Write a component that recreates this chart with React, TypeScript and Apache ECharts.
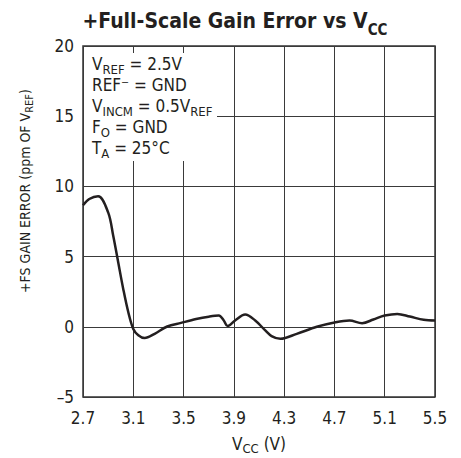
import React, { useEffect, useRef } from "react";
import * as echarts from "echarts";

const X0 = 2.7;
const vcc = [2.70, 2.75, 2.82, 2.90, 2.94, 2.98, 3.02, 3.06, 3.10, 3.14, 3.19, 3.27, 3.37, 3.48, 3.60, 3.70, 3.78, 3.82, 3.85, 3.91, 3.99, 4.07, 4.15, 4.20, 4.27, 4.40, 4.56, 4.71, 4.82, 4.92, 5.01, 5.10, 5.20, 5.30, 5.41, 5.50];
const gainError = [8.65, 9.1, 9.3, 8.15, 6.5, 4.6, 2.7, 1.05, -0.15, -0.6, -0.8, -0.5, 0.02, 0.28, 0.55, 0.72, 0.8, 0.45, 0.05, 0.45, 0.87, 0.45, -0.26, -0.66, -0.85, -0.5, 0.0, 0.33, 0.45, 0.26, 0.52, 0.8, 0.92, 0.73, 0.5, 0.45];
const yTicks = [-5, 0, 5, 10, 15, 20];
const notes = [
  "V{sub|REF} = 2.5V",
  "REF⁻ = GND",
  "V{sub|INCM} = 0.5V{sub|REF}",
  "F{sub|O} = GND",
  "T{sub|A} = 25°C",
];

const FONT = '"DejaVu Sans Condensed", "Liberation Sans Narrow", Arial, sans-serif';
const INK = "#231f20";

export default function App() {
  const ref = useRef<HTMLDivElement>(null);
  useEffect(() => {
    const chart = echarts.init(ref.current!, null, { renderer: "svg" });
    const subRich = (size: number, drop: number) => ({
      sub: { fontSize: size, fontFamily: FONT, color: INK, verticalAlign: "bottom", lineHeight: size, padding: [0, 0, -drop, 0] },
    });
    const noteEls: any[] = notes.map((t, i) => ({
      type: "text",
      x: 92,
      y: 64 + i * 21,
      z: 101,
      style: {
        text: t,
        fontSize: 17,
        fontFamily: FONT,
        fill: INK,
        verticalAlign: "middle",
        align: "left",
        rich: subRich(13, 3),
      },
    }));
    chart.setOption({
      animation: false,
      title: {
        text: "+Full-Scale Gain Error vs V{sub|CC}",
        left: 230,
        textAlign: "center",
        top: 5,
        textStyle: {
          fontSize: 21,
          fontWeight: "bold",
          fontFamily: FONT,
          color: INK,
          rich: {
            sub: { fontSize: 15, fontWeight: "bold", fontFamily: FONT, color: INK, verticalAlign: "bottom", padding: [0, 0, -6, 0] },
          },
        },
      },
      grid: {
        left: 83, right: 26, top: 46, bottom: 61,
        show: true, borderColor: "#333", borderWidth: 1.5,
        containLabel: false,
        outerBoundsMode: "none",
      },
      xAxis: {
        type: "value",
        min: 0,
        max: 2.8,
        interval: 0.4,
        axisLine: { show: false },
        axisTick: { show: false },
        splitLine: { show: true, lineStyle: { color: "#3a3a3a", width: 1 } },
        axisLabel: {
          formatter: (v: number) => (v + X0).toFixed(1),
          fontSize: 17,
          fontFamily: FONT,
          color: INK,
          margin: 12,
        },
        name: "V{sub|CC} (V)",
        nameLocation: "middle",
        nameGap: 38,
        nameTextStyle: {
          fontSize: 17,
          fontFamily: FONT,
          color: INK,
          rich: subRich(13, 3),
        },
      },
      yAxis: {
        type: "value",
        min: yTicks[0],
        max: yTicks[yTicks.length - 1],
        interval: 5,
        axisLine: { show: false },
        axisTick: { show: false },
        splitLine: { show: true, lineStyle: { color: "#3a3a3a", width: 1 } },
        axisLabel: {
          formatter: (v: number) => (v < 0 ? "–" + Math.abs(v) : String(v)),
          fontSize: 17,
          fontFamily: FONT,
          color: INK,
          margin: 9,
        },
      },
      graphic: [
        { type: "rect", z: 100, shape: { x: 84, y: 53, width: 133, height: 108 }, style: { fill: "#fff" } },
        ...noteEls,
        {
          type: "text",
          x: 25,
          y: 191,
          rotation: Math.PI / 2,
          z: 101,
          style: {
            text: "+FS GAIN ERROR (ppm OF V{sub|REF})",
            fontSize: 14,
            fontFamily: FONT,
            fill: INK,
            align: "center",
            verticalAlign: "middle",
            rich: subRich(11, 3),
          },
        },
      ],
      series: [
        {
          type: "line",
          data: vcc.map((v, i) => [v - X0, gainError[i]]),
          smooth: 0.35,
          showSymbol: false,
          lineStyle: { color: INK, width: 2.5 },
          z: 5,
        },
      ],
    });
    return () => chart.dispose();
  }, []);
  return <div ref={ref} style={{ position: "fixed", left: 0, top: 0, width: 461, height: 458, background: "#fff" }} />;
}
